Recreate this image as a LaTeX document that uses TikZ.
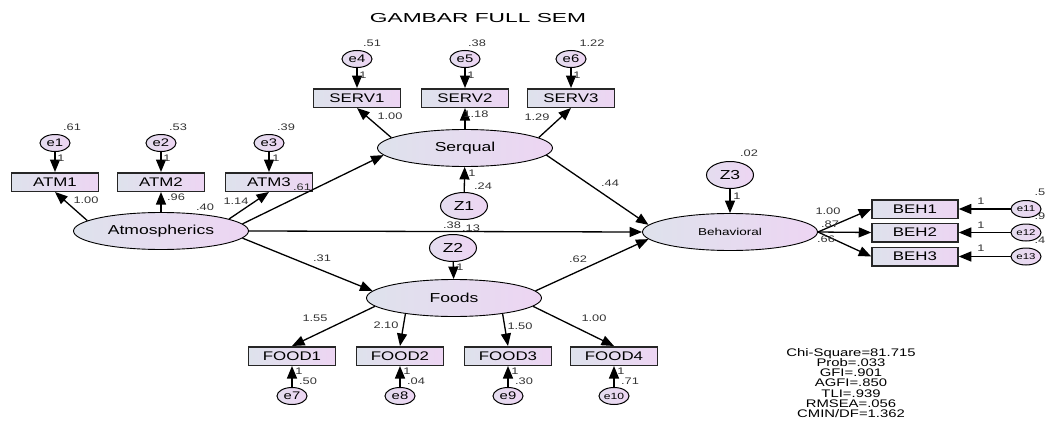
\documentclass[tikz,border=0pt]{standalone}
\usepackage{fontspec}
\setmainfont{Liberation Sans}[FakeStretch=1.35]
\newfontfamily\titlefont{Liberation Sans}[FakeStretch=1.75]
\usepackage{tikz}
\usetikzlibrary{shapes.geometric}
\usetikzlibrary{positioning}
\usetikzlibrary{arrows.meta}
\definecolor{semleft}{RGB}{222,226,236}
\definecolor{semright}{RGB}{237,213,243}
\tikzset{node distance=39pt, % Distance between an item and its error. Change if necessary.
latent/.style={ % Sets the properties for each latent variable
ellipse, draw, line width=0.9pt,
left color=semleft, right color=semright,
minimum width=175pt, minimum height=37pt, inner sep=0pt,
font=\fontsize{13pt}{15pt}\selectfont},
observed/.style={ % Sets the properties for each measured item
rectangle, draw=black!85, line width=1.5pt,
left color=semleft, right color=semright,
minimum width=87pt, minimum height=18.5pt, inner sep=0pt,
font=\fontsize{12.5pt}{14pt}\selectfont},
errvar/.style={ % Error terms of the items
ellipse, draw, line width=1pt,
left color=semleft!60!semright, right color=semright,
minimum width=30pt, minimum height=17pt, inner sep=0pt,
font=\fontsize{11pt}{13pt}\selectfont},
zres/.style={ % Residuals of the latent variables
errvar, minimum width=47pt, minimum height=27pt,
font=\fontsize{13pt}{15pt}\selectfont},
lbl/.style={inner sep=0pt, text=black!80, font=\fontsize{9.5pt}{11pt}\selectfont},
every edge/.style={ % Sets the properties for each path
draw,
-{Triangle[length=12.5pt,width=10pt]}, % Filled arrow heads as in AMOS
line width=1.3pt}}

\begin{document}
\begin{tikzpicture}[x=1pt,y=-1pt]
					\useasboundingbox (0,0) rectangle (1045,431);
					\node[font=\titlefont\fontsize{13pt}{15pt}\selectfont] (title) at (478,18) {GAMBAR FULL SEM};

					\node[latent] (atm) at (161,231) {Atmospherics};
					\node[latent] (serq) at (465,148) {Serqual};
					\node[latent] (foods) at (454,298) {Foods};
					\node[latent, font=\fontsize{10pt}{12pt}\selectfont] (beh) at (730,232) {Behavioral};

					\node[zres] (z1) at (464,206) {Z1};
					\node[zres] (z2) at (453,248) {Z2};
					\node[zres, above of=beh, node distance=57pt] (z3) {Z3};

					% Atmospherics items
					\node[observed, above of=atm, node distance=49pt] (atm2) {ATM2};
					\node[observed, left of=atm2, node distance=106pt] (atm1) {ATM1};
					\node[observed, right of=atm2, node distance=108pt] (atm3) {ATM3};
					\node[errvar, above of=atm1] (e1) {e1};
					\node[errvar, above of=atm2] (e2) {e2};
					\node[errvar, above of=atm3] (e3) {e3};

					% Serqual items
					\node[observed, above of=serq, node distance=50pt] (serv2) {SERV2};
					\node[observed, left of=serv2, node distance=108pt] (serv1) {SERV1};
					\node[observed, right of=serv2, node distance=106pt] (serv3) {SERV3};
					\node[errvar, above of=serv1] (e4) {e4};
					\node[errvar, above of=serv2] (e5) {e5};
					\node[errvar, above of=serv3] (e6) {e6};

					% Foods items
					\node[observed] (food1) at (292,356) {FOOD1};
					\node[observed, right of=food1, node distance=108pt] (food2) {FOOD2};
					\node[observed, right of=food2, node distance=108pt] (food3) {FOOD3};
					\node[observed, right of=food3, node distance=106pt] (food4) {FOOD4};
					\node[errvar, below of=food1, node distance=40pt] (e7) {e7};
					\node[errvar, below of=food2, node distance=40pt] (e8) {e8};
					\node[errvar, below of=food3, node distance=40pt] (e9) {e9};
					\node[errvar, below of=food4, node distance=40pt, font=\fontsize{9pt}{11pt}\selectfont] (e10) {e10};

					% Behavioral items
					\node[lbl] (v11) at (1040,192) {.5};
					\node[lbl] (v12) at (1040,216) {.9};
					\node[lbl] (v13) at (1040,240) {.4};
					\node[observed, minimum width=86pt] (beh1) at (915,209) {BEH1};
					\node[observed, minimum width=86pt, below of=beh1, node distance=23.5pt] (beh2) {BEH2};
					\node[observed, minimum width=86pt, below of=beh2, node distance=24pt] (beh3) {BEH3};
					\node[errvar, right of=beh1, node distance=111pt, font=\fontsize{8.5pt}{10pt}\selectfont] (e11) {e11};
					\node[errvar, right of=beh2, node distance=111pt, font=\fontsize{8.5pt}{10pt}\selectfont] (e12) {e12};
					\node[errvar, right of=beh3, node distance=111pt, font=\fontsize{8.5pt}{10pt}\selectfont] (e13) {e13};

					% structural paths
					\draw (atm.5) edge (serq.185);
					\draw (atm.east) edge (beh.west);
					\draw (atm.-5) edge (foods.175);
					\draw (serq.-5) edge (beh.175);
					\draw (foods.5) edge (beh.185);
					\draw (z1) edge (serq);
					\draw (z2) edge (foods);
					\draw (z3) edge (beh);

					% loadings
					\draw (atm.172) edge (atm1.south);
					\draw (atm) edge (atm2.south);
					\draw (atm.10) edge (atm3.south);
					\draw (serq.172) edge (serv1.south);
					\draw (serq) edge (serv2.south);
					\draw (serq.8) edge (serv3.south);
					\draw (foods.186) edge (food1.north);
					\draw (foods.198) edge (food2.north);
					\draw (foods.-18) edge (food3.north);
					\draw (foods.-6) edge (food4.north);
					\draw (beh.east) edge (beh1.west);
					\draw (beh.east) edge (beh2.west);
					\draw (beh.east) edge (beh3.west);

					% error terms
					\draw (e1) edge (atm1);
					\draw (e2) edge (atm2);
					\draw (e3) edge (atm3);
					\draw (e4) edge (serv1);
					\draw (e5) edge (serv2);
					\draw (e6) edge (serv3);
					\draw (e7) edge (food1);
					\draw (e8) edge (food2);
					\draw (e9) edge (food3);
					\draw (e10) edge (food4);
					\draw (e11) edge (beh1);
					\draw (e12) edge (beh2);
					\draw (e13) edge (beh3);

					% estimates
					\node[lbl] (w1) at (86,200) {1.00};
					\node[lbl] (w2) at (176,197) {.96};
					\node[lbl] (w3) at (236,201) {1.14};
					\node[lbl] (w4) at (390,116) {1.00};
					\node[lbl] (w5) at (476,114) {1.18};
					\node[lbl] (w6) at (537,117) {1.29};
					\node[lbl] (w7) at (315,318) {1.55};
					\node[lbl] (w8) at (386,325) {2.10};
					\node[lbl] (w9) at (520,326) {1.50};
					\node[lbl] (w10) at (594,318) {1.00};
					\node[lbl] (w11) at (828,211) {1.00};
					\node[lbl] (w12) at (830,224) {.87};
					\node[lbl] (w13) at (826,239) {.66};
					\node[lbl] (w14) at (322,258) {.31};
					\node[lbl] (w15) at (610,183) {.44};
					\node[lbl] (w16) at (578,259) {.62};
					\node[lbl] (w17) at (452,225) {.38};
					\node[lbl] (w18) at (471,228) {.13};

					\node[lbl] (v1) at (72,127) {.61};
					\node[lbl] (v2) at (178,127) {.53};
					\node[lbl] (v3) at (286,127) {.39};
					\node[lbl] (v4) at (372,43) {.51};
					\node[lbl] (v5) at (477,43) {.38};
					\node[lbl] (v6) at (592,43) {1.22};
					\node[lbl] (v7) at (308,381) {.50};
					\node[lbl] (v8) at (416,381) {.04};
					\node[lbl] (v9) at (524,381) {.30};
					\node[lbl] (v10) at (630,381) {.71};
					\node[lbl] (vatm) at (205,207) {.40};
					\node[lbl] (vatm3) at (302,187) {.61};
					\node[lbl] (vz1) at (483,186) {.24};
					\node[lbl] (vz3) at (749,153) {.02};

					% fixed weights
					\node[lbl] (f1) at (61,158) {1};
					\node[lbl] (f2) at (167,158) {1};
					\node[lbl] (f3) at (276,158) {1};
					\node[lbl] (f4) at (363,75) {1};
					\node[lbl] (f5) at (471,75) {1};
					\node[lbl] (f6) at (577,75) {1};
					\node[lbl] (f7) at (299,371) {1};
					\node[lbl] (f8) at (407,371) {1};
					\node[lbl] (f9) at (515,371) {1};
					\node[lbl] (f10) at (621,371) {1};
					\node[lbl] (f11) at (981,201) {1};
					\node[lbl] (f12) at (981,225) {1};
					\node[lbl] (f13) at (981,248) {1};
					\node[lbl] (fz1) at (472,173) {1};
					\node[lbl] (fz2) at (460,267) {1};
					\node[lbl] (fz3) at (737,196) {1};

					\node[align=center, font=\fontsize{11pt}{10.3pt}\selectfont] (fit) at (851,383) {Chi-Square=81.715\\Prob=.033\\GFI=.901\\AGFI=.850\\TLI=.939\\RMSEA=.056\\CMIN/DF=1.362};
				\end{tikzpicture}
\end{document}
